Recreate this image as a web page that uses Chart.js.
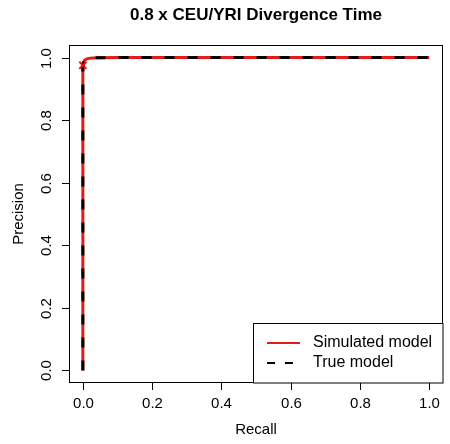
<!DOCTYPE html>
<html>
<head>
<meta charset="utf-8">
<script src="https://cdn.jsdelivr.net/npm/chart.js@4/dist/chart.umd.min.js"></script>
<style>
  html, body { margin: 0; padding: 0; background: #ffffff; }
  #wrap { width: 450px; height: 444px; }
</style>
</head>
<body>
<div id="wrap"><canvas id="prCurve" width="450" height="444"></canvas></div>
<script>
// Curva precision-recall (mismo comportamiento para ambos modelos)
const recall    = [0, 0, 0.002, 0.005, 0.01, 0.02, 0.04, 0.1, 0.5, 1];
const precision = [0, 0.968, 0.984, 0.991, 0.995, 0.998, 0.999, 1, 1, 1];
const simRecall = recall;
const simPrecision = precision;
// Punto de corte marcado
const cutRecall = [0];
const cutPrecision = [0.975];
const tickValues = [0, 0.2, 0.4, 0.6, 0.8, 1];
const tickLabels = ["0.0", "0.2", "0.4", "0.6", "0.8", "1.0"];
const seriesNames = ["Simulated model", "True model"];

const FONT = "Liberation Sans, Arial, Helvetica, sans-serif";

function toPoints(xs, ys) {
    return xs.map((x, i) => ({ x: x, y: ys[i] }));
}

// Ejes, título y leyenda al estilo de R base
const rDecor = {
    id: "rDecor",
    afterDraw(chart) {
        const ctx = chart.ctx;
        const a = chart.chartArea;
        const sx = chart.scales.x;
        const sy = chart.scales.y;
        ctx.save();

        // caja
        ctx.strokeStyle = "#000";
        ctx.lineWidth = 1;
        ctx.strokeRect(a.left + 0.5, a.top + 0.5, a.right - a.left - 1, a.bottom - a.top - 1);

        // marcas y etiquetas eje x
        ctx.fillStyle = "#000";
        ctx.font = "15px " + FONT;
        ctx.textAlign = "center";
        ctx.textBaseline = "middle";
        tickValues.forEach((v, i) => {
            const px = Math.round(sx.getPixelForValue(v)) + 0.5;
            ctx.beginPath();
            ctx.moveTo(px, a.bottom);
            ctx.lineTo(px, a.bottom + 7);
            ctx.stroke();
            ctx.fillText(tickLabels[i], px, a.bottom + 21);
        });

        // marcas y etiquetas eje y (rotadas)
        tickValues.forEach((v, i) => {
            const py = Math.round(sy.getPixelForValue(v)) + 0.5;
            ctx.beginPath();
            ctx.moveTo(a.left, py);
            ctx.lineTo(a.left - 7, py);
            ctx.stroke();
            ctx.save();
            ctx.translate(a.left - 22, py);
            ctx.rotate(-Math.PI / 2);
            ctx.fillText(tickLabels[i], 0, 0);
            ctx.restore();
        });

        // títulos de ejes
        ctx.fillText("Recall", (a.left + a.right) / 2, a.bottom + 47);
        ctx.save();
        ctx.translate(19, (a.top + a.bottom) / 2);
        ctx.rotate(-Math.PI / 2);
        ctx.fillText("Precision", 0, 0);
        ctx.restore();

        // título principal
        ctx.font = "bold 17px " + FONT;
        ctx.fillText("0.8 x CEU/YRI Divergence Time", (a.left + a.right) / 2, 15);

        // leyenda
        const lx = 253.5, ly = 323.5, lw = a.right - 253.5, lh = a.bottom - 323.5;
        ctx.fillStyle = "#fff";
        ctx.fillRect(lx, ly, lw, lh);
        ctx.strokeStyle = "#000";
        ctx.lineWidth = 1;
        ctx.strokeRect(lx, ly, lw, lh);
        const ds = chart.data.datasets;
        [0, 1].forEach(k => {
            const yy = 343 + k * 20;
            ctx.strokeStyle = ds[k].borderColor;
            ctx.lineWidth = 2;
            ctx.setLineDash(k === 1 ? [8, 10] : []);
            ctx.beginPath();
            ctx.moveTo(267, yy);
            ctx.lineTo(300, yy);
            ctx.stroke();
            ctx.setLineDash([]);
            ctx.fillStyle = "#000";
            ctx.font = "16px " + FONT;
            ctx.textAlign = "left";
            ctx.fillText(seriesNames[k], 313, yy);
        });

        ctx.restore();
    }
};

document.addEventListener("DOMContentLoaded", function() {
    const ctx = document.getElementById("prCurve").getContext("2d");
    new Chart(ctx, {
        type: "scatter",
        data: {
            datasets: [
                {
                    label: seriesNames[0],
                    data: toPoints(simRecall, simPrecision),
                    showLine: true,
                    borderColor: "#e41a1c",
                    borderWidth: 3,
                    pointRadius: 0,
                    order: 3
                },
                {
                    label: seriesNames[1],
                    data: toPoints(recall, precision),
                    showLine: true,
                    borderColor: "#000000",
                    borderWidth: 3,
                    borderDash: [10, 13],
                    pointRadius: 0,
                    order: 2
                },
                {
                    label: "cutoff",
                    data: toPoints(cutRecall, cutPrecision),
                    showLine: false,
                    pointStyle: "crossRot",
                    pointRadius: 5,
                    borderColor: "#ee1111",
                    borderWidth: 2,
                    order: 1
                }
            ]
        },
        options: {
            responsive: false,
            animation: false,
            layout: { padding: { left: 69, right: 3, top: 45, bottom: 61 } },
            scales: {
                x: { type: "linear", min: -0.04, max: 1.04, display: false },
                y: { type: "linear", min: -0.04, max: 1.04, display: false }
            },
            plugins: {
                legend: { display: false },
                tooltip: { enabled: false }
            }
        },
        plugins: [rDecor]
    });
});
</script>
</body>
</html>
